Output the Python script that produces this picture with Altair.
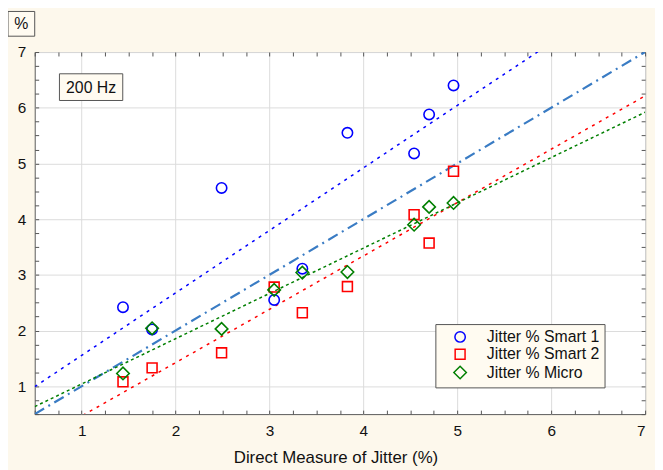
import altair as alt
import pandas as pd

# ---- data ----
series = ["Jitter % Smart 1", "Jitter % Smart 2", "Jitter % Micro"]
direct = [1.44, 1.75, 2.49, 3.05, 3.35, 3.83, 4.54, 4.70, 4.96]
smart1 = [2.42, 2.02, 4.56, 2.55, 3.11, 5.55, 5.18, 5.88, 6.40]
smart2 = [1.08, 1.33, 1.60, 2.78, 2.32, 2.79, 4.08, 3.57, 4.86]
micro = [1.23, 2.04, 2.03, 2.73, 3.04, 3.05, 3.90, 4.22, 4.29]
identity_x = [0.5, 7.0]
major_ticks = [1, 2, 3, 4, 5, 6, 7]
minor_ticks = [0.5 + 0.25 * i for i in range(27)]
colors = ["#0000ff", "#ff0000", "#007f00"]
shapes = ["circle", "square", "diamond"]
sizes = [110, 100, 160]
dashes = [[3, 5], [3, 5], [3, 3]]

rows = []
for name, vals in zip(series, [smart1, smart2, micro]):
    for xv, yv in zip(direct, vals):
        rows.append({"series": name, "x": xv, "y": yv})
df = pd.DataFrame(rows)
ident = pd.DataFrame({"x": identity_x, "y": identity_x})

FONT = "Liberation Sans"
CREAM = "#fdf8ec"
BOXFILL = "#fffbf1"
xscale = alt.Scale(domain=[0.5, 7], nice=False, zero=False)
yscale = alt.Scale(domain=[0.5, 7], nice=False, zero=False)


def tick_axis(orient):
    return alt.Axis(orient=orient, values=minor_ticks, labels=False, domain=False,
                    grid=False, ticks=True, tickSize=4, tickColor="#555555",
                    tickWidth=1, offset=-4)


identity = alt.Chart(ident).mark_line(
    color="#3a7cc4", strokeWidth=2.2, strokeDash=[11, 5, 2, 5], clip=True
).encode(
    x=alt.X("x:Q", scale=xscale, axis=tick_axis("bottom"), title=None),
    y=alt.Y("y:Q", scale=yscale, axis=tick_axis("left"), title=None),
)

reg_layers = []
for i, name in enumerate(series):
    if i == 0:
        xax, yax = tick_axis("top"), tick_axis("right")
    else:
        xax, yax = None, None
    reg_layers.append(
        alt.Chart(df).transform_filter(alt.datum.series == name).transform_regression(
            "x", "y", extent=[0.5, 7]
        ).mark_line(strokeWidth=1.5, clip=True, color=colors[i], strokeDash=dashes[i]).encode(
            x=alt.X("x:Q", scale=xscale, axis=xax, title=None),
            y=alt.Y("y:Q", scale=yscale, axis=yax, title=None),
        )
    )

leg = alt.Legend(orient="none", legendX=405, legendY=275, title=None,
                 fillColor=BOXFILL, strokeColor="#555555", padding=5,
                 labelFontSize=16, labelColor="#111111", labelFont=FONT,
                 symbolStrokeWidth=1.5, rowPadding=0.5, symbolOffset=12, labelOffset=19)

points = alt.Chart(df).mark_point(filled=False, strokeWidth=1.6, opacity=1).encode(
    x=alt.X("x:Q", scale=xscale, title="Direct Measure of Jitter (%)",
            axis=alt.Axis(orient="bottom", values=major_ticks, grid=True, ticks=False, tickSize=0,
                          domain=False, labelPadding=10, format="d",
                          titleX=304, titleY=49, titleBaseline="alphabetic", titleAlign="center",
                          titleFontSize=17)),
    y=alt.Y("y:Q", scale=yscale, title=None,
            axis=alt.Axis(orient="left", values=major_ticks, grid=True, ticks=False, tickSize=0,
                          domain=False, labelPadding=9, format="d")),
    color=alt.Color("series:N", scale=alt.Scale(domain=series, range=colors), legend=leg),
    shape=alt.Shape("series:N", scale=alt.Scale(domain=series, range=shapes), legend=leg),
    size=alt.Size("series:N", scale=alt.Scale(type="ordinal", domain=series, range=sizes), legend=leg),
)

one = alt.Data(values=[{"a": 1}])
box200 = alt.Chart(one).mark_rect(fill=BOXFILL, stroke="#555555", strokeWidth=1).encode(
    x=alt.value(25), x2=alt.value(89), y=alt.value(22), y2=alt.value(49))
txt200 = alt.Chart(one).mark_text(text="200 Hz", fontSize=16, font=FONT, color="#111111",
                                  align="center", baseline="middle").encode(
    x=alt.value(57), y=alt.value(36))
boxpct = alt.Chart(one).mark_rect(fill=BOXFILL, stroke="#555555", strokeWidth=1).encode(
    x=alt.value(-27), x2=alt.value(0), y=alt.value(-41), y2=alt.value(-16))
txtpct = alt.Chart(one).mark_text(text="%", fontSize=16, font=FONT, color="#111111",
                                  align="center", baseline="middle").encode(
    x=alt.value(-13.5), y=alt.value(-28))

chart = alt.layer(identity, *reg_layers, points, box200, txt200, boxpct, txtpct).resolve_axis(
    x="independent", y="independent"
).properties(
    width=617, height=366,
    autosize=alt.AutoSizeParams(type="none"),
    padding={"left": 27, "top": 42, "right": 10, "bottom": 54},
    background=CREAM,
).configure_view(
    stroke="#5a5a5a", strokeWidth=1, fill="white"
).configure_axis(
    labelFont=FONT, titleFont=FONT, labelFontSize=15.5, titleFontSize=17,
    labelColor="#111111", titleColor="#111111", titleFontWeight="normal",
    gridColor="#dcdcdc", gridWidth=1,
)

chart.save("out.html", embed_options={"renderer": "svg", "actions": False})
